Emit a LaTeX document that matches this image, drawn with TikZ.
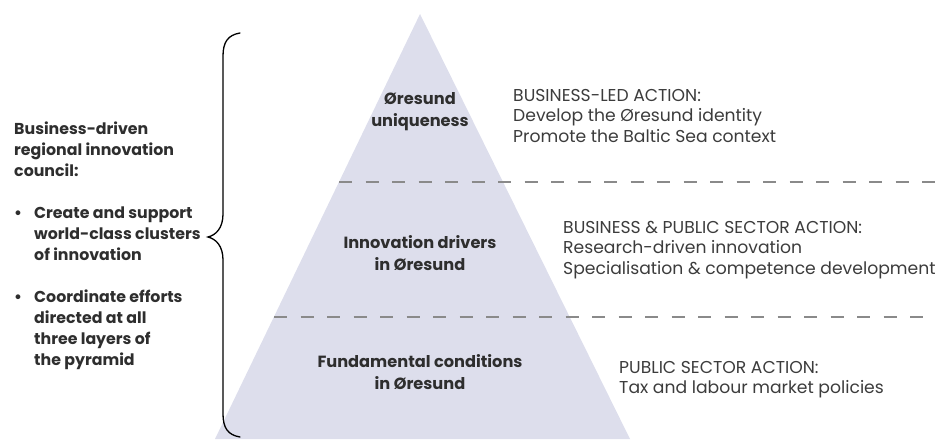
\documentclass[tikz,border=0pt]{standalone}
\usepackage{fontspec}
\setmainfont{Poppins}
\begin{document}
\begin{tikzpicture}[x=1pt,y=-1pt,
  layer/.style={fill=pyr},
  sep/.style={draw=dashgray,line width=1.1pt,dash pattern=on 13pt off 13.5pt},
  lvl/.style={font=\fontsize{16.2}{22}\selectfont\bfseries,text=ink,align=center,anchor=north,inner sep=0pt},
  act/.style={font=\fontsize{17.2}{20.5}\selectfont,text=soft,align=left,anchor=north west,inner sep=0pt},
  council/.style={font=\fontsize{15.8}{21}\selectfont\bfseries,text=ink,align=left,anchor=north west,inner sep=0pt}]
\definecolor{pyr}{HTML}{DDDEEC}
\definecolor{dashgray}{HTML}{8A8A8A}
\definecolor{ink}{HTML}{2E2E2E}
\definecolor{soft}{HTML}{3C3C3C}
\useasboundingbox (0,0) rectangle (941,439);

% pyramid
\coordinate (apex) at (420,14);
\coordinate (bl) at (215,439);
\coordinate (br) at (630,439);
\fill[layer] (apex) -- (bl) -- (br) -- cycle;

% layer separators
\coordinate (s1a) at (339,182);
\coordinate (s1b) at (941,182);
\coordinate (s2a) at (274,317);
\coordinate (s2b) at (930,317);
\draw[sep] (s1a) -- (s1b);
\draw[sep] (s2a) -- (s2b);

% layer titles
\node[lvl] (top) at (420,92) {Øresund\\uniqueness};
\node[lvl] (mid) at (420,235) {Innovation drivers\\in Øresund};
\node[lvl] (bot) at (420,354) {Fundamental conditions\\in Øresund};

% actions
\node[act] (a1) at (513,89) {BUSINESS-LED ACTION:\\Develop the Øresund identity\\Promote the Baltic Sea context};
\node[act] (a2) at (563,221) {BUSINESS \& PUBLIC SECTOR ACTION:\\Research-driven innovation\\Specialisation \& competence development};
\node[act] (a3) at (619,361) {PUBLIC SECTOR ACTION:\\Tax and labour market policies};

% council text
\node[council] (c) at (14,122) {Business-driven\\regional innovation\\council:\\[21pt]
\makebox[20pt][l]{•}Create and support\\\hspace*{20pt}world-class clusters\\\hspace*{20pt}of innovation\\[21pt]
\makebox[20pt][l]{•}Coordinate efforts\\\hspace*{20pt}directed at all\\\hspace*{20pt}three layers of\\\hspace*{20pt}the pyramid};

% brace
\coordinate (bt) at (240,33);
\coordinate (tip) at (208,237);
\coordinate (bb) at (240,437);
\draw[line width=1.3pt,line cap=round] (bt) .. controls (228,35) and (223,42) .. (223,56)
  -- (223,214) .. controls (223,228) and (216,235) .. (tip)
  .. controls (216,239) and (223,246) .. (223,260)
  -- (223,414) .. controls (223,428) and (228,435) .. (bb);
\end{tikzpicture}
\end{document}
